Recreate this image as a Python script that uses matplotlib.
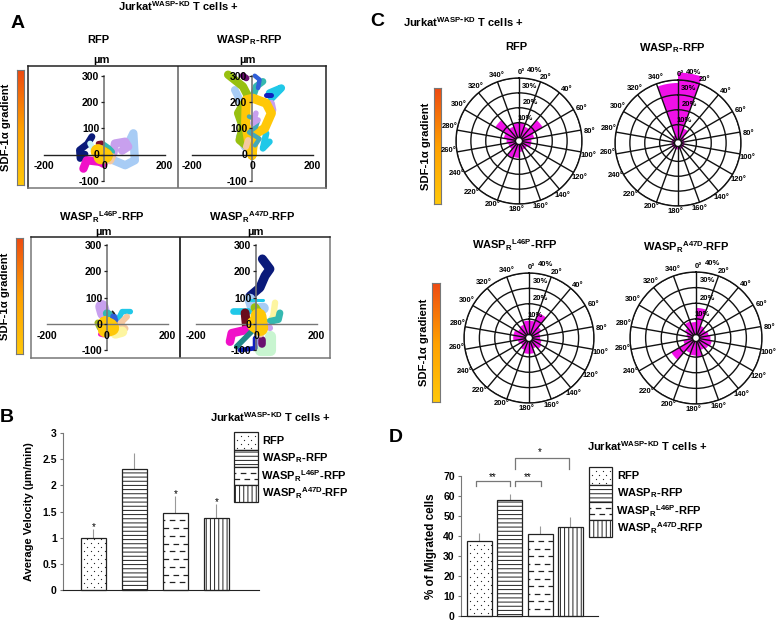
import numpy as np
import matplotlib
matplotlib.use('Agg')
import matplotlib.pyplot as plt
from matplotlib.colors import LinearSegmentedColormap
from matplotlib.patches import Rectangle

plt.rcParams['font.family'] = ['Liberation Sans', 'DejaVu Sans']
plt.rcParams['font.weight'] = 'bold'
plt.rcParams['hatch.linewidth'] = 0.7
plt.rcParams['axes.unicode_minus'] = False

W, H = 776, 621

# panel A, tracks in um
rfp_x = [[-40, -55, -81, -79, -63], [-46, -24], [-68, -57, -13, -2], [31, 70, 102, 97, 80],
         [31, 36, 70, 80, 60], [-2, 14, 25], [-19, -8], [20, 25], [5, 15], [-20, -8, -10, 5, -12]]
rfp_y = [[68, 40, 17, -15, 1], [42, -3], [-54, -22, -28, -35], [-22, -41, -22, 81, 40],
         [4, 42, 49, 30, 15], [36, 23, 10], [42, 44], [-22, -10], [12, -2], [12, 4, -10, -5, 0]]
rfp_colors = ['#0a1a7a', '#c8f5f8', '#f010c8', '#a8ccf5', '#c8a0ee', '#35b8b0', '#7a1030', '#f5c8a0', '#a0b820', '#ffc808']
rfp_widths = [5.0, 4.2, 6.0, 6.0, 6.0, 5.0, 3.6, 6.0, 6.0, 10.5]

wasp_x = [[-57, -35, -41, -24, -13], [-41, -24], [47, 36, 58], [58, 97, 64], [47, 64], [64, 69], [36, 14, 3],
          [9, 25, 20], [-30, -19], [-79, -30, -13, -46, -30, -41, -13],
          [0, -10, -21, -19, 3, 47, 64, 42, 14, 3, 0], [-10, 20, 13, -10, 25, 10], [-13, -20], [13, 3, 20]]
wasp_y = [[247, 196, 150, 110, 80], [68, 29], [81, 23, 49], [235, 254, 215], [228, 228], [196, 170], [279, 260, 222],
          [301, 286, 254], [301, 292], [305, 260, 222, 158, 106, 55, 29],
          [-3, 42, 119, 209, 215, 196, 158, 100, 81, 29, -3], [145, 130, 105, 85, 60, 35], [55, 29], [158, 119, 132]]
wasp_colors = ['#a8ccf5', '#a8ccf5', '#20c8e8', '#20c8e8', '#1020c0', '#c8a0ee', '#35b8b0',
               '#3060d8', '#6a1070', '#98c010', '#ffc808', '#45a8b8', '#f5c8a0', '#c8a0ee']
wasp_widths = [5.5, 5.5, 4.6, 5.4, 3.6, 5.0, 5.0, 3.2, 4.6, 6.0, 6.6, 3.2, 4.4, 4.0]

l46p_x = [[-17, -11], [0, 15], [77, 50, 39], [22, 28], [66, 44, 61], [28, 50], [-22, -12], [-30, -22], [18, 24],
          [-5, 10, 15, -5, -5]]
l46p_y = [[66, 41], [40, 28], [47, 47, 22], [28, 3], [28, 3, -17], [-36, -29], [-39, -42], [4, -15], [48, 40],
          [0, -8, -15, -22, 0]]
l46p_colors = ['#c8a0ee', '#35b8b0', '#20c8e8', '#3060d8', '#f5c8a0', '#fdf5a0', '#f010c8', '#a0b820', '#202020', '#ffc808']
l46p_widths = [9.5, 6.0, 4.0, 5.0, 4.4, 7.5, 3.4, 5.0, 1.2, 11.0]

a47d_x = [[46, 46, 13], [21, 46, 30, 13, -20], [-20, -9, 24], [24, -20], [-75, -25], [-3, 8], [63, 57, 35],
          [79, 74, 46], [-36, -31], [46, 35], [-86, -80, -31], [-14, -64], [-3, -3, -53],
          [19, 19], [24, 15], [8, 14, -5, 8]]
a47d_y = [[-47, -99, -99], [247, 209, 183, 138, 106], [94, 55, 60], [91, 91], [49, 49], [62, 42], [81, 29, -9],
          [42, 17, 10], [42, -15], [-15, -5], [-67, -35, -22], [-28, -86], [-54, -92, -99],
          [-60, -75], [-28, -40], [29, -15, 0, 10]]
a47d_colors = ['#c8f5d0', '#0a1a7a', '#a8ccf5', '#20c8e8', '#20c8e8', '#98c010', '#fdf5a0',
               '#35b8b0', '#6a0c1c', '#c8a0ee', '#f010c8', '#208888', '#1020c0',
               '#6a1070', '#f5c8a0', '#ffc808']
a47d_widths = [8.0, 6.5, 8.0, 2.2, 4.8, 6.5, 4.6, 5.0, 6.4, 4.6, 6.2, 4.0, 3.4, 5.5, 4.4, 11.5]

# panel C, percent per 20 degree sector, clockwise from 0
rose_rfp = [10, 8, 16, 8, 6, 6, 4, 4, 5, 9, 10, 5, 5, 6, 8, 16, 8, 10]
rose_wasp = [45, 8, 3, 2, 2, 2, 2, 2, 2, 2, 2, 2, 2, 2, 2, 2, 3, 38]
rose_l46p = [9, 15, 7, 5, 5, 6, 7, 5, 8, 8, 6, 4, 5, 8, 8, 6, 7, 9]
rose_a47d = [17, 6, 5, 6, 7, 8, 7, 6, 10, 9, 8, 16, 6, 3, 4, 6, 9, 8]
rose_angles = np.arange(0, 360, 20)
rose_rings = [10, 20, 30, 40]

# panels B and D
groups = ['RFP', 'WASP$_{\\mathregular{R}}$-RFP', 'WASP$_{\\mathregular{R}}$$^{\\mathregular{L46P}}$-RFP',
          'WASP$_{\\mathregular{R}}$$^{\\mathregular{A47D}}$-RFP']
velocity = [1.0, 2.32, 1.48, 1.37]
velocity_err = [0.17, 0.30, 0.31, 0.27]
velocity_stars = ['*', '', '*', '*']
migrated = [37.7, 58, 41, 44.3]
migrated_err = [3.8, 3, 4, 5.2]
hatches = ['dots', '----', 'dash', '||||']

jurkat = 'Jurkat$^{\\mathregular{WASP\\text{-}KD}}$ T cells +'
line_col = '#222222'
grey = '#777777'

fig = plt.figure(figsize=(W / 100, H / 100), dpi=100)
ramp = LinearSegmentedColormap.from_list('sdf', ['#ffc80a', '#ffa000', '#ee4a12'])


def px_axes(left, right, top, bottom, **kw):
    return fig.add_axes([left / W, 1 - bottom / H, (right - left) / W, (bottom - top) / H], **kw)


def ptext(x, y, s, size=8, ha='left', va='center', **kw):
    fig.text(x / W, 1 - y / H, s, fontsize=size, ha=ha, va=va, **kw)


def sdf_bar(left, right, top, bottom, label_x):
    ax = px_axes(left, right, top, bottom)
    ax.imshow(np.linspace(1, 0, 128)[:, None], aspect='auto', cmap=ramp)
    ax.set_xticks([])
    ax.set_yticks([])
    for s in ax.spines.values():
        s.set_color(grey)
        s.set_linewidth(0.8)
    ptext(label_x, (top + bottom) / 2, 'SDF-1\u03b1 gradient', size=8.1, ha='center', rotation=90)


def frame(left, right, top, bottom, mid, colors, mid_col):
    ax = px_axes(left, right, top, bottom)
    ax.set_xlim(left, right)
    ax.set_xticks([])
    ax.set_yticks([])
    for name, c in colors.items():
        ax.spines[name].set_color(c)
        ax.spines[name].set_linewidth(1.1)
    ax.axvline(mid, color=mid_col, lw=1.3)


def tracks(cx, x_px, y300, y0, axis_col, xs, ys, colors, widths):
    unit_y = (y0 - y300) / 300
    ax = px_axes(cx - x_px, cx + x_px, y300, y0 + 100 * unit_y)
    ax.patch.set_alpha(0)
    ax.set_xlim(-200, 200)
    ax.set_ylim(-100, 300)
    for x, y, c, lw in zip(xs, ys, colors, widths):
        ax.plot(x, y, color=c, lw=lw, solid_capstyle='round', solid_joinstyle='round', clip_on=False, zorder=2)
    ax.spines['left'].set_position('zero')
    ax.spines['bottom'].set_position('zero')
    ax.spines['top'].set_visible(False)
    ax.spines['right'].set_visible(False)
    ax.spines['left'].set_color(grey)
    ax.spines['bottom'].set_color(axis_col)
    ax.spines['left'].set_linewidth(1.2)
    ax.spines['bottom'].set_linewidth(1.0)
    ax.set_axisbelow(False)
    ax.set_xticks([-200, 0, 200])
    ax.set_yticks([-100, 0, 100, 200, 300])
    ax.tick_params(axis='x', length=0, labelsize=7.5, pad=5)
    ax.tick_params(axis='y', length=2.5, width=0.9, color=line_col, labelsize=7.5, pad=1)
    return ax


def rose(cx, cy, radius, values):
    hole = 3.5
    ax = px_axes(cx - radius, cx + radius, cy - radius, cy + radius, projection='polar')
    ax.set_theta_zero_location('N')
    ax.set_theta_direction(-1)
    ax.set_rorigin(-40 * hole / (radius - hole))
    ax.set_rlim(0, 40)
    ax.bar(np.deg2rad(rose_angles + 10), values, width=np.deg2rad(20), color='#f010e8', linewidth=0,
           align='center', clip_on=False, zorder=2)
    ax.set_thetagrids(rose_angles, [])
    ax.set_rgrids(rose_rings, [])
    ax.grid(True, color='#111111', lw=1.0)
    ax.set_axisbelow(False)
    ax.spines['polar'].set_color('#111111')
    ax.spines['polar'].set_linewidth(1.0)
    ax.spines['inner'].set_color('#111111')
    ax.spines['inner'].set_linewidth(1.0)
    for a in rose_angles:
        t = np.deg2rad(a + 2)
        ptext(cx + (radius + 8) * np.sin(t), cy - (radius + 6) * np.cos(t), f'{a}\u00b0', size=5.5, ha='center')
    scale = radius / 63
    for r, dx, dy in zip(rose_rings, [6, 11, 11, 16], [-22, -38, -55, -71]):
        ptext(cx + dx * scale, cy + dy * scale, f'{r}%', size=5.5, ha='center')


def fill_box(ax, x0, x1, y0, y1, style):
    ext = ax.get_window_extent()
    x_px = ext.width / abs(ax.get_xlim()[1] - ax.get_xlim()[0])
    y_px = ext.height / abs(ax.get_ylim()[1] - ax.get_ylim()[0])
    if style == 'dash':
        ax.add_patch(Rectangle((x0, y0), x1 - x0, y1 - y0, fc='white', ec=line_col, lw=0.9, clip_on=False))
        n = max(2, int((y1 - y0) * y_px / 8))
        for k, lev in enumerate(np.linspace(y0, y1, n + 2)[1:-1]):
            offset = 0 if k % 2 else 3
            ax.hlines(lev, x0, x1, color=line_col, lw=0.9, linestyles=[(offset, (4.5, 3.5))])
    elif style == 'dots':
        ax.add_patch(Rectangle((x0, y0), x1 - x0, y1 - y0, fc='white', ec=line_col, lw=0.9, clip_on=False))
        rows = np.arange(min(y0, y1) + 3.5 / y_px, max(y0, y1), 4 / y_px)
        for k, lev in enumerate(rows):
            cols = np.arange(x0 + (3 if k % 2 else 6.5) / x_px, x1, 7 / x_px)
            ax.plot(cols, [lev] * len(cols), ls='none', marker='o', ms=0.9, mew=0, color=line_col)
    else:
        ax.add_patch(Rectangle((x0, y0), x1 - x0, y1 - y0, fc='white', ec=line_col, lw=0.9, hatch=style, clip_on=False))


def bars(left, right, top, bottom, xlim, half, vals, errs, ymax, yticks, stars, ylabel, lab_x, lab_size):
    ax = px_axes(left, right, top, bottom)
    ax.set_ylim(0, ymax)
    ax.set_xlim(*xlim)
    ax.patch.set_alpha(0)
    pos = np.arange(len(vals))
    ax.errorbar(pos, vals, yerr=[[0] * len(errs), errs], fmt='none', ecolor='#999999', elinewidth=0.8,
                capsize=0, zorder=1)
    for p, v, st in zip(pos, vals, hatches):
        fill_box(ax, p - half, p + half, 0, v, st)
    for p, v, e, s in zip(pos, vals, errs, stars):
        if s:
            ax.text(p, v + e + ymax * 0.012, s, ha='center', va='center', fontsize=7, fontweight='normal')
    for s in ['top', 'right']:
        ax.spines[s].set_visible(False)
    ax.spines['left'].set_color(grey)
    ax.spines['bottom'].set_color(line_col)
    ax.set_xticks([])
    ax.set_yticks(yticks, [f'{v:g}' for v in yticks])
    ax.tick_params(axis='y', length=2.5, width=0.8, labelsize=7.5, pad=2, color=grey)
    ptext(lab_x, (top + bottom) / 2, ylabel, size=lab_size, ha='center', rotation=90)
    return ax


def legend_boxes(left, right, top, row_h, text_x, text_shift):
    ax = px_axes(left, right, top, top + 4 * row_h)
    ax.set_xlim(0, 1)
    ax.set_ylim(4, 0)
    ax.axis('off')
    for i, st in enumerate(hatches):
        fill_box(ax, 0, 1, i, i + 1, st)
        ptext(text_x + text_shift[i], top + row_h * (i + 0.5), groups[i], size=8)


# panel A
ptext(178, 6, jurkat, size=8, ha='center')
ptext(11, 23, 'A', size=14)
ptext(98, 40, 'RFP', size=8, ha='center')
ptext(249, 40, groups[1], size=8, ha='center')
ptext(101, 60, '\u00b5m', size=8, ha='center')
ptext(248, 60, '\u00b5m', size=8, ha='center')
ptext(102, 217, groups[2], size=8, ha='center')
ptext(252, 217, groups[3], size=8, ha='center')
ptext(104, 232, '\u00b5m', size=8, ha='center')
ptext(256, 232, '\u00b5m', size=8, ha='center')

frame(28, 326, 66, 188, 178, {'top': line_col, 'left': line_col, 'right': line_col, 'bottom': grey}, grey)
frame(31, 330, 237, 358, 180, {'top': line_col, 'left': grey, 'right': grey, 'bottom': grey}, line_col)
sdf_bar(17, 24, 70, 185, 6)
sdf_bar(16, 23, 238, 354, 5)
tracks(104, 60.5, 76, 154.5, line_col, rfp_x, rfp_y, rfp_colors, rfp_widths)
tracks(252, 60.5, 76, 154.5, line_col, wasp_x, wasp_y, wasp_colors, wasp_widths)
tracks(107, 60.5, 245, 324, grey, l46p_x, l46p_y, l46p_colors, l46p_widths)
tracks(256, 60.5, 245, 324, grey, a47d_x, a47d_y, a47d_colors, a47d_widths)

# panel C
ptext(403, 22, jurkat, size=8)
ptext(370, 22, 'C', size=14)
ptext(516, 47, 'RFP', size=8, ha='center')
ptext(672, 48, groups[1], size=8, ha='center')
ptext(515, 245, groups[2], size=8, ha='center')
ptext(686, 247, groups[3], size=8, ha='center')
sdf_bar(434, 441, 88, 204, 426)
sdf_bar(432, 440, 283, 402, 424)
rose(519, 141, 63, rose_rfp)
rose(678, 143, 63, rose_wasp)
rose(529, 338, 65, rose_l46p)
rose(696, 338, 66, rose_a47d)

# panel B
ptext(0, 418, 'B', size=14)
ptext(210, 417, jurkat, size=8)
bars(63, 259, 433, 590, (-0.744, 4.04), 0.305, velocity, velocity_err, 3, [0, 0.5, 1, 1.5, 2, 2.5, 3],
     velocity_stars, 'Average Velocity (\u00b5m/min)', 29, 8)
legend_boxes(234, 258, 432, 17.5, 262, [0, 0, -1, 0])

# panel D
ptext(389, 438, 'D', size=14)
ptext(587, 446, jurkat, size=8)
ax_d = bars(461, 598, 476, 616, (-0.61, 3.91), 0.41, migrated, migrated_err, 70, list(range(0, 80, 10)),
            ['', '', '', ''], '% of Migrated cells', 431, 8.4)
legend_boxes(589, 612, 467, 17.5, 617, [0, 0, -1, 0])
for x0, x1, lo, hi in [(-0.115, 1.0, 65, 67.5), (1.17, 2.03, 65, 67.5), (1.17, 2.96, 73.5, 79)]:
    ax_d.plot([x0, x0, x1, x1], [lo, hi, hi, lo], color=grey, lw=0.9, clip_on=False)
ax_d.text(0.45, 69.5, '**', ha='center', va='center', fontsize=7, fontweight='normal')
ax_d.text(1.6, 69.5, '**', ha='center', va='center', fontsize=7, fontweight='normal')
ax_d.text(2.0, 82, '*', ha='center', va='center', fontsize=7, fontweight='normal')

fig.savefig('out.png', dpi=100)
